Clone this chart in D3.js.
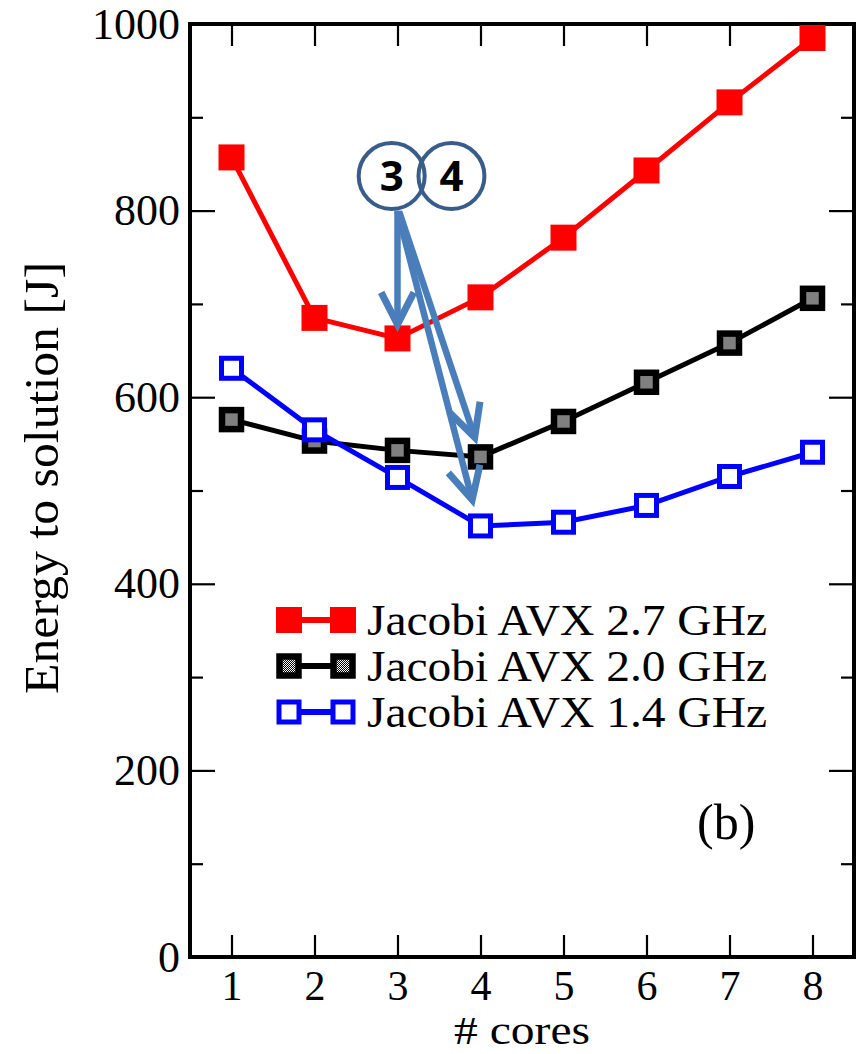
<!DOCTYPE html>
<html>
<head>
<meta charset="utf-8">
<script src="https://cdn.jsdelivr.net/npm/d3@7"></script>
<style>
  body { margin: 0; background: #fff; }
  svg { display: block; }
  text { font-family: "Liberation Serif", "DejaVu Serif", serif; fill: #000; }
</style>
</head>
<body>
<div id="chart"></div>
<script>
// data
const cores = [1, 2, 3, 4, 5, 6, 7, 8];
const energy27 = [857, 685, 663, 707, 771, 843, 916, 985];
const energy20 = [576, 553, 543, 536, 574, 616, 658, 706];
const energy14 = [631, 565, 514, 462, 466, 484, 515, 541];
const seriesNames = ["Jacobi AVX 2.7 GHz", "Jacobi AVX 2.0 GHz", "Jacobi AVX 1.4 GHz"];
const yMajor = [0, 200, 400, 600, 800, 1000];
const yMinor = [100, 300, 500, 700, 900];

// annotation bubbles and arrows, in data units
const bubbles = [{label: "3", x: 2.93, y: 837}, {label: "4", x: 3.65, y: 837}];
const arrows = [
  {x0: 3.0, y0: 800, x1: 3.0, y1: 678},
  {x0: 3.02, y0: 799, x1: 3.93, y1: 557},
  {x0: 3.0, y0: 799, x1: 3.9, y1: 490}
];

const width = 860;
const height = 1054;
const margin = {top: 24, right: 6, bottom: 97, left: 190};

const svg = d3.select("#chart")
  .append("svg")
  .attr("width", width)
  .attr("height", height);

const defs = svg.append("defs");
const pat = defs.append("pattern")
  .attr("id", "checker")
  .attr("patternUnits", "userSpaceOnUse")
  .attr("width", 2).attr("height", 2);
pat.append("rect").attr("width", 2).attr("height", 2).attr("fill", "#fff");
pat.append("rect").attr("width", 1).attr("height", 1).attr("fill", "#000");
pat.append("rect").attr("x", 1).attr("y", 1).attr("width", 1).attr("height", 1).attr("fill", "#000");

const x = d3.scaleLinear()
  .domain([0.5, 8.5])
  .range([margin.left, width - margin.right]);

const y = d3.scaleLinear()
  .domain([0, 1000])
  .range([height - margin.bottom, margin.top]);

// axes: ticks point inwards on all four sides
function tidy(g) {
  g.select(".domain").remove();
  g.selectAll(".tick line").attr("stroke-width", 2.2);
}

svg.append("g")
  .attr("transform", `translate(0,${y(0)})`)
  .call(d3.axisBottom(x).tickValues(cores).tickSize(-22).tickPadding(13).tickFormat(d3.format("d")))
  .call(tidy)
  .selectAll("text").attr("font-size", 42);

svg.append("g")
  .attr("transform", `translate(0,${y(1000)})`)
  .call(d3.axisTop(x).tickValues(cores).tickSize(-22).tickFormat(""))
  .call(tidy);

svg.append("g")
  .attr("transform", `translate(${x(0.5)},0)`)
  .call(d3.axisLeft(y).tickValues(yMajor).tickSize(-25).tickPadding(10).tickFormat(d3.format("d")))
  .call(tidy)
  .selectAll("text").attr("font-size", 44);

svg.append("g")
  .attr("transform", `translate(${x(0.5)},0)`)
  .call(d3.axisLeft(y).tickValues(yMinor).tickSize(-13).tickFormat(""))
  .call(tidy);

svg.append("g")
  .attr("transform", `translate(${x(8.5)},0)`)
  .call(d3.axisRight(y).tickValues(yMajor).tickSize(-25).tickFormat(""))
  .call(tidy);

svg.append("g")
  .attr("transform", `translate(${x(8.5)},0)`)
  .call(d3.axisRight(y).tickValues(yMinor).tickSize(-13).tickFormat(""))
  .call(tidy);

svg.append("rect")
  .attr("x", x(0.5)).attr("y", y(1000))
  .attr("width", x(8.5) - x(0.5)).attr("height", y(0) - y(1000))
  .attr("fill", "none").attr("stroke", "#000").attr("stroke-width", 4);

// axis titles
svg.append("text")
  .attr("x", 522)
  .attr("y", 1044)
  .attr("text-anchor", "middle")
  .attr("font-size", 40)
  .attr("textLength", 136)
  .attr("lengthAdjust", "spacingAndGlyphs")
  .text("# cores");

svg.append("text")
  .attr("transform", `translate(58,${478}) rotate(-90)`)
  .attr("text-anchor", "middle")
  .attr("font-size", 48)
  .attr("textLength", 432)
  .attr("lengthAdjust", "spacingAndGlyphs")
  .text("Energy to solution [J]");

svg.append("text")
  .attr("x", x(6.96)).attr("y", y(127))
  .attr("text-anchor", "middle")
  .attr("font-size", 50)
  .text("(b)");

// series
const series = [
  {name: seriesNames[0], values: energy27, color: "#ff0000", kind: "filled"},
  {name: seriesNames[1], values: energy20, color: "#000000", kind: "checker"},
  {name: seriesNames[2], values: energy14, color: "#0000ff", kind: "open"}
];

const line = d3.line().x((d, i) => x(cores[i])).y(d => y(d));

function marker(g, s) {
  if (s.kind === "filled") {
    g.append("rect").attr("x", -13).attr("y", -13).attr("width", 26).attr("height", 26).attr("fill", s.color);
  } else if (s.kind === "checker") {
    g.append("rect").attr("x", -9.5).attr("y", -9.5).attr("width", 19).attr("height", 19)
      .attr("fill", "url(#checker)").attr("stroke", s.color).attr("stroke-width", 6.5);
  } else {
    g.append("rect").attr("x", -10).attr("y", -10).attr("width", 20).attr("height", 20)
      .attr("fill", "#fff").attr("stroke", s.color).attr("stroke-width", 5);
  }
}

series.forEach(s => {
  const g = svg.append("g");
  g.append("path")
    .attr("d", line(s.values))
    .attr("fill", "none")
    .attr("stroke", s.color)
    .attr("stroke-width", 5);
  g.selectAll("g.pt")
    .data(s.values)
    .join("g")
      .attr("class", "pt")
      .attr("transform", (d, i) => `translate(${x(cores[i])},${y(d)})`)
      .each(function () { marker(d3.select(this), s); });
});

// legend
const legend = svg.append("g").attr("transform", "translate(276,620)");
series.forEach((s, i) => {
  const row = legend.append("g").attr("transform", `translate(0,${i * 46})`);
  row.append("line").attr("x1", 13).attr("x2", 67).attr("stroke", s.color).attr("stroke-width", 6);
  row.append("g").attr("transform", "translate(13,0)").call(g => marker(g, s));
  row.append("g").attr("transform", "translate(67,0)").call(g => marker(g, s));
  row.append("text")
    .attr("x", 91).attr("y", 15)
    .attr("font-size", 45)
    .attr("textLength", 400)
    .attr("lengthAdjust", "spacingAndGlyphs")
    .text(s.name);
});

// annotation arrows
const arrowColor = "#4a7ebb";
arrows.forEach(a => {
  const p0 = [x(a.x0), y(a.y0)], p1 = [x(a.x1), y(a.y1)];
  const ang = Math.atan2(p1[1] - p0[1], p1[0] - p0[0]);
  const L = 36, th = 27 * Math.PI / 180;
  const w1 = [p1[0] - L * Math.cos(ang - th), p1[1] - L * Math.sin(ang - th)];
  const w2 = [p1[0] - L * Math.cos(ang + th), p1[1] - L * Math.sin(ang + th)];
  svg.append("path")
    .attr("d", `M${p0}L${p1}`)
    .attr("stroke", arrowColor).attr("stroke-width", 6.5).attr("fill", "none");
  svg.append("path")
    .attr("d", `M${w1}L${p1}L${w2}`)
    .attr("stroke", arrowColor).attr("stroke-width", 7).attr("fill", "none")
    .attr("stroke-linejoin", "miter");
});

// numbered bubbles
bubbles.forEach(b => {
  svg.append("circle")
    .attr("cx", x(b.x)).attr("cy", y(b.y)).attr("r", 33)
    .attr("fill", "none").attr("stroke", "#385d8a").attr("stroke-width", 4);
  svg.append("text")
    .attr("x", x(b.x)).attr("y", y(b.y))
    .attr("dy", "0.36em")
    .attr("text-anchor", "middle")
    .attr("font-size", 42)
    .attr("font-weight", "bold")
    .style("font-family", "'Open Sans', 'Liberation Sans', sans-serif")
    .text(b.label);
});
</script>
</body>
</html>
